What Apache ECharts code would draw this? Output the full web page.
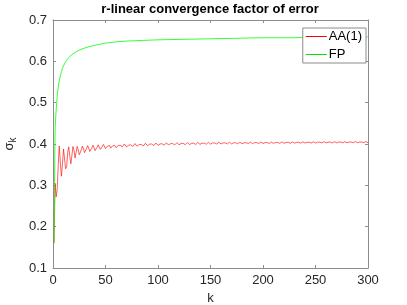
<!DOCTYPE html>
<html><head><meta charset="utf-8">
<script src="https://cdn.jsdelivr.net/npm/echarts@6/dist/echarts.min.js"></script>
<style>html,body{margin:0;padding:0;background:#fff}#c{width:407px;height:305px}</style>
</head><body><div id="c"></div>
<script>
const titleText = 'r-linear convergence factor of error';
const seriesNames = ['AA(1)', 'FP'];
const xTickLabels = ['0','50','100','150','200','250','300'];
const yTickLabels = ['0.1','0.2','0.3','0.4','0.5','0.6','0.7'];

// AA(1): value at k = 1..300
const aaValues = [
0.160,0.305,0.272,0.290,0.350,0.395,0.355,0.322,0.350,0.388,
0.385,0.340,0.345,0.380,0.393,0.370,0.352,0.372,0.394,0.385,
0.366,0.380,0.394,0.386,0.374,0.374,0.386,0.395,0.389,0.379,
0.379,0.389,0.396,0.390,0.382,0.382,0.390,0.397,0.392,0.384,
0.384,0.392,0.398,0.394,0.387,0.387,0.394,0.399,0.395,0.389,
0.389,0.395,0.399,0.396,0.390,0.390,0.396,0.400,0.396,0.391,
0.391,0.396,0.400,0.397,0.393,0.393,0.397,0.400,0.397,0.393,
0.393,0.397,0.401,0.398,0.394,0.394,0.398,0.4010,0.3986,0.3947,
0.3947,0.3986,0.4015,0.3991,0.3952,0.3952,0.3991,0.4017,0.3995,0.3959,
0.3959,0.3995,0.4022,0.4000,0.3964,0.3964,0.4000,0.4023,0.4002,0.3969,
0.3969,0.4002,0.4026,0.4005,0.3972,0.3972,0.4005,0.4030,0.4009,0.3976,
0.3976,0.4009,0.4030,0.4011,0.3979,0.3979,0.4011,0.4032,0.4013,0.3981,
0.3981,0.4013,0.4033,0.4014,0.3984,0.3984,0.4014,0.4035,0.4016,0.3986,
0.3986,0.4016,0.4036,0.4018,0.3989,0.3989,0.4018,0.4038,0.4020,0.3991,
0.3991,0.4020,0.4039,0.4022,0.3994,0.3994,0.4022,0.4041,0.4024,0.3996,
0.3996,0.4024,0.4042,0.4025,0.3999,0.3999,0.4025,0.4044,0.4027,0.4001,
0.4001,0.4027,0.4044,0.4028,0.4002,0.4002,0.4028,0.4045,0.4029,0.4003,
0.4003,0.4029,0.4045,0.4030,0.4005,0.4005,0.4030,0.4046,0.4031,0.4006,
0.4006,0.4031,0.4046,0.4032,0.4008,0.4008,0.4032,0.4047,0.4033,0.4009,
0.4009,0.4033,0.4047,0.4033,0.4011,0.4011,0.4033,0.4048,0.4034,0.4012,
0.4012,0.4034,0.4049,0.4035,0.4013,0.4013,0.4035,0.4049,0.4036,0.4015,
0.4015,0.4036,0.4050,0.4037,0.4016,0.4016,0.4037,0.4051,0.4038,0.4017,
0.4017,0.4038,0.4051,0.4039,0.4018,0.4018,0.4039,0.4052,0.4040,0.4019,
0.4019,0.4040,0.4053,0.4041,0.4020,0.4020,0.4041,0.4053,0.4041,0.4022,
0.4022,0.4041,0.4054,0.4042,0.4023,0.4023,0.4042,0.4055,0.4043,0.4024,
0.4024,0.4043,0.4055,0.4044,0.4026,0.4026,0.4044,0.4056,0.4045,0.4027,
0.4027,0.4045,0.4056,0.4045,0.4027,0.4027,0.4045,0.4057,0.4046,0.4028,
0.4028,0.4046,0.4056,0.4046,0.4029,0.4029,0.4046,0.4057,0.4047,0.4030,
0.4030,0.4047,0.4057,0.4047,0.4030,0.4030,0.4047,0.4058,0.4048,0.4031,
0.4031,0.4048,0.4058,0.4048,0.4031,0.4031,0.4048,0.4059,0.4049,0.4032
];

// FP: sampled k and values
const fpK = [1,2,3,4,5,6,7,8,9,10,11,12,13,14,15,16,17,18,19,20,25,30,35,40,50,60,70,80,90,100,120,140,160,180,200,225,250,275,300];
const fpValues = [0.160,0.430,0.482,0.515,0.537,0.553,0.565,0.575,0.583,0.589,0.594,0.599,0.603,0.606,0.609,0.612,0.614,0.616,0.618,0.620,0.627,0.632,0.636,0.639,0.644,0.647,0.649,0.650,0.651,0.652,0.653,0.654,0.655,0.656,0.657,0.657,0.658,0.658,0.659];

const aaData = aaValues.map((v, i) => [i + 1, v]);
const fpData = fpK.map((k, i) => [k, fpValues[i]]);

const axisColor = '#8c8c8c';
const labelColor = '#262626';
const font = 'Liberation Sans, Arial, Helvetica, sans-serif';

const chart = echarts.init(document.getElementById('c'), null, {renderer: 'canvas'});
chart.setOption({
  animation: false,
  backgroundColor: '#fff',
  title: {
    text: titleText, left: 210, top: 3, textAlign: 'center', padding: 0,
    textStyle: {fontFamily: font, fontSize: 13, fontWeight: 'bold', color: '#000'}
  },
  grid: {left: 53, right: 39, top: 20, bottom: 37, show: false, outerBoundsMode: 'none', containLabel: false},
  legend: {
    data: seriesNames, orient: 'vertical', right: 41, top: 28,
    icon: 'rect', itemWidth: 21, itemHeight: 1, itemGap: 5,
    borderColor: axisColor, borderWidth: 1, padding: [2, 4, 2, 3],
    backgroundColor: '#fff',
    textStyle: {fontFamily: font, fontSize: 13, color: '#000', padding: [0, 0, 0, -3]}
  },
  xAxis: [{
    type: 'value', min: 0, max: 300, interval: 50, position: 'bottom',
    name: 'k', nameLocation: 'middle', nameGap: 24,
    nameTextStyle: {fontFamily: font, fontSize: 13, color: labelColor},
    axisLine: {show: true, onZero: false, lineStyle: {color: axisColor, width: 1}},
    axisTick: {show: true, inside: true, length: 3, lineStyle: {color: axisColor}},
    axisLabel: {fontFamily: font, fontSize: 13, color: labelColor, margin: 6,
      formatter: (v) => xTickLabels[Math.round(v / 50)]},
    splitLine: {show: false}
  }, {
    type: 'value', min: 0, max: 300, interval: 50, position: 'top',
    axisLine: {show: true, onZero: false, lineStyle: {color: axisColor, width: 1}},
    axisTick: {show: true, inside: true, length: 3, lineStyle: {color: axisColor}},
    axisLabel: {show: false}, splitLine: {show: false}
  }],
  yAxis: [{
    type: 'value', min: 0.1, max: 0.7, interval: 0.1, position: 'left',
    name: '{s|σ}{k|k}', nameLocation: 'middle', nameGap: 27, nameRotate: 90,
    nameTextStyle: {fontFamily: font, color: labelColor,
      rich: {s: {fontSize: 13, fontFamily: font, color: labelColor},
             k: {fontSize: 10, fontFamily: font, color: labelColor, verticalAlign: 'bottom', padding: [8, 0, 0, 0]}}},
    axisLine: {show: true, onZero: false, lineStyle: {color: axisColor, width: 1}},
    axisTick: {show: true, inside: true, length: 3, lineStyle: {color: axisColor}},
    axisLabel: {fontFamily: font, fontSize: 13, color: labelColor, margin: 6,
      formatter: (v) => yTickLabels[Math.round((v - 0.1) * 10)]},
    splitLine: {show: false}
  }, {
    type: 'value', min: 0.1, max: 0.7, interval: 0.1, position: 'right',
    axisLine: {show: true, onZero: false, lineStyle: {color: axisColor, width: 1}},
    axisTick: {show: true, inside: true, length: 3, lineStyle: {color: axisColor}},
    axisLabel: {show: false}, splitLine: {show: false}
  }],
  series: [{
    name: seriesNames[0], type: 'line', data: aaData, symbol: 'none',
    color: '#ff0000', lineStyle: {color: '#ff1a1a', width: 0.7}, z: 2
  }, {
    name: seriesNames[1], type: 'line', data: fpData, symbol: 'none', smooth: 0.3,
    color: '#00e600', lineStyle: {color: '#00ff00', width: 0.8}, z: 3
  }]
});
</script></body></html>
